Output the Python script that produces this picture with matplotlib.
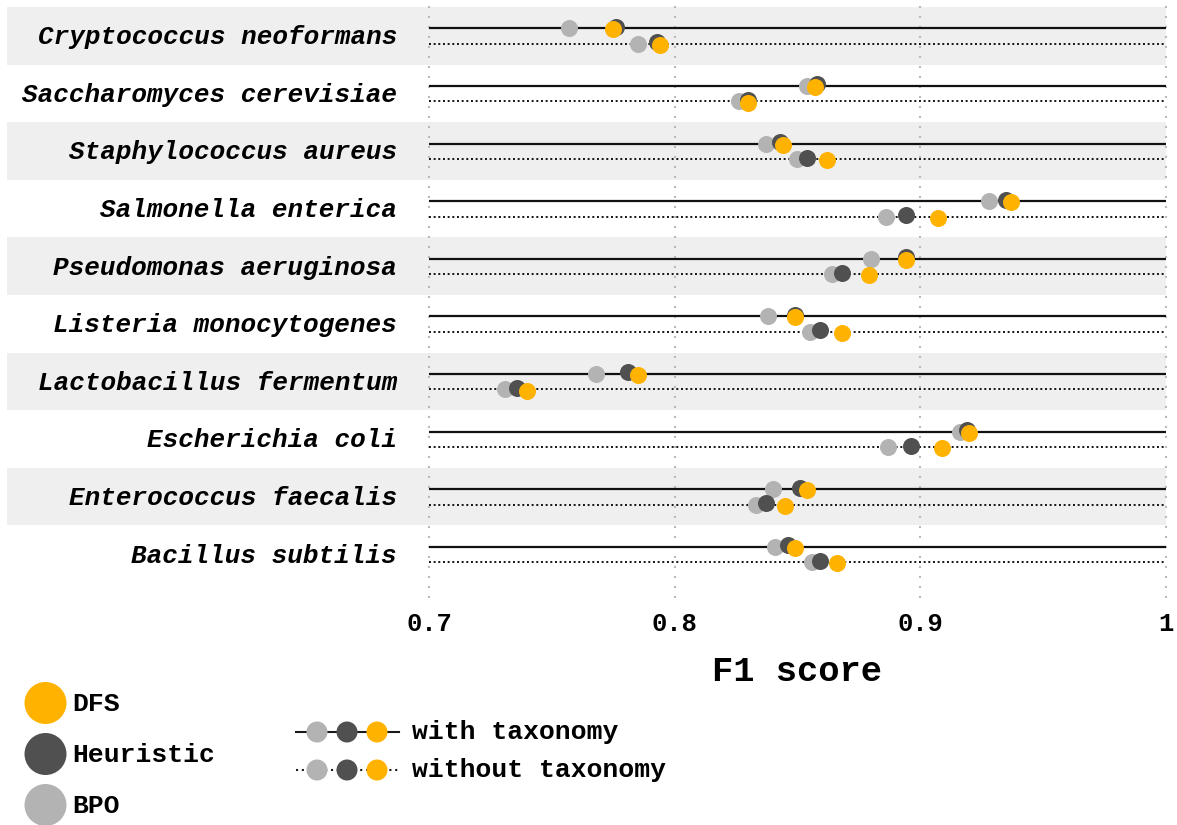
import matplotlib
matplotlib.use("Agg")
import matplotlib.pyplot as plt
from matplotlib.patches import Circle
import numpy as np

species = ["Cryptococcus neoformans", "Saccharomyces cerevisiae", "Staphylococcus aureus",
           "Salmonella enterica", "Pseudomonas aeruginosa", "Listeria monocytogenes",
           "Lactobacillus fermentum", "Escherichia coli", "Enterococcus faecalis",
           "Bacillus subtilis"]

# F1 scores, with taxonomy
bpo_tax = [0.757, 0.854, 0.837, 0.928, 0.880, 0.838, 0.768, 0.916, 0.840, 0.841]
heur_tax = [0.776, 0.858, 0.843, 0.935, 0.894, 0.849, 0.781, 0.919, 0.851, 0.846]
dfs_tax = [0.775, 0.857, 0.844, 0.937, 0.894, 0.849, 0.785, 0.920, 0.854, 0.849]
# F1 scores, without taxonomy
bpo_notax = [0.785, 0.826, 0.850, 0.886, 0.864, 0.855, 0.731, 0.887, 0.833, 0.856]
heur_notax = [0.793, 0.830, 0.854, 0.894, 0.868, 0.859, 0.736, 0.896, 0.837, 0.859]
dfs_notax = [0.794, 0.830, 0.862, 0.907, 0.879, 0.868, 0.740, 0.909, 0.845, 0.866]

xticks = [0.7, 0.8, 0.9, 1.0]
xticklabels = ["0.7", "0.8", "0.9", "1"]

c_dfs, c_heur, c_bpo = "#FFB300", "#505050", "#B3B3B3"
mono = "Liberation Mono"

fig = plt.figure(figsize=(11.77, 8.25), dpi=100)
W, H = 1177, 825
ax = fig.add_axes([429 / W, 1 - 598 / H, (1166 - 429) / W, 598 / H])

n = len(species)
ax.set_xlim(0.7, 1.0)
ax.set_ylim((598 - 7) / 57.6, -7 / 57.6)

# alternating bands, extended to the left under labels
for i in range(n):
    if i % 2 == 0:
        ax.axhspan(i, i + 1, xmin=(7 - 429) / 737, xmax=1, color="#EFEFEF",
                   clip_on=False, zorder=0, lw=0)

for x in xticks:
    ax.axvline(x, color="#BBBBBB", lw=1.5, ls=(0, (1, 3.8)), zorder=1, clip_on=False)

y_tax = np.arange(n) + 0.37
y_notax = np.arange(n) + 0.64
ax.hlines(y_tax, 0.7, 1.0, color="#111111", lw=1.6, zorder=2)
ax.hlines(y_notax, 0.7, 1.0, color="#111111", lw=1.4, ls=(0, (1, 1.4)), zorder=2)

s = 150
for ys, vals, col, dy in [(y_tax, bpo_tax, c_bpo, 0), (y_tax, heur_tax, c_heur, -0.025),
                          (y_tax, dfs_tax, c_dfs, 0.018),
                          (y_notax, bpo_notax, c_bpo, 0), (y_notax, heur_notax, c_heur, -0.025),
                          (y_notax, dfs_notax, c_dfs, 0.018)]:
    ax.scatter(vals, ys + dy, s=s, color=col, lw=0, zorder=3, clip_on=False)

ax.set_yticks(np.arange(n) + 0.48)
ax.set_yticklabels(species, fontfamily=mono, fontweight="bold", fontstyle="italic", fontsize=18.7)
ax.set_xticks(xticks)
ax.set_xticklabels(xticklabels, fontfamily=mono, fontweight="bold", fontsize=18.4)
ax.tick_params(length=0, axis="y", pad=23)
ax.tick_params(length=0, axis="x", pad=10)
ax.set_xlabel("F1 score", fontfamily=mono, fontweight="bold", fontsize=25.5, labelpad=14)
for sp in ax.spines.values():
    sp.set_visible(False)

# legends drawn on an overlay in pixel coordinates
lg = fig.add_axes([0, 0, 1, 1])
lg.set_xlim(0, W)
lg.set_ylim(H, 0)
lg.set_aspect("equal")
lg.axis("off")

methods = ["DFS", "Heuristic", "BPO"]
mcols = [c_dfs, c_heur, c_bpo]
for k, (m, c) in enumerate(zip(methods, mcols)):
    yy = 703 + 51 * k
    lg.add_patch(Circle((45.5, yy), 21, color=c, lw=0, clip_on=False))
    lg.text(72, yy + 1, m, fontfamily=mono, fontweight="bold", fontsize=19, va="center", ha="left")

for yy, ls, lab in [(732, "-", "with taxonomy"), (770, (0, (1, 1.8)), "without taxonomy")]:
    lg.plot([296, 399], [yy, yy], color="#1a1a1a", lw=1.5, ls=ls)
    for xx, c in zip([317, 347, 377], [c_bpo, c_heur, c_dfs]):
        lg.add_patch(Circle((xx, yy), 10.5, color=c, lw=0, zorder=3))
    lg.text(412, yy, lab, fontfamily=mono, fontweight="bold", fontsize=19, va="center", ha="left")

fig.savefig("out.png", dpi=100)
